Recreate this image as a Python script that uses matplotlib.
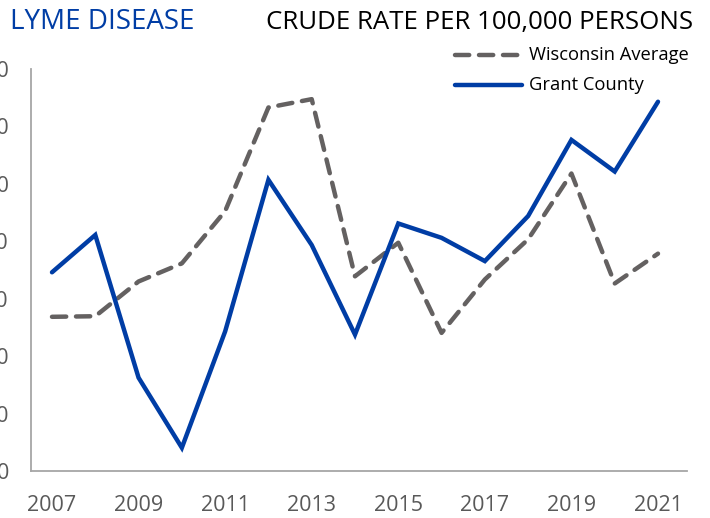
import matplotlib
matplotlib.use("Agg")
import matplotlib.pyplot as plt
from matplotlib.lines import Line2D

years = list(range(2007, 2022))
wisconsin = [53.7, 53.9, 66.0, 72.3, 90.5, 126.6, 129.5, 67.8, 79.5, 48.1, 66.7, 80.7, 103.6, 65.3, 75.7]
grant = [69.2, 82.2, 32.5, 8.1, 48.6, 101.4, 78.7, 47.5, 86.2, 81.2, 73.1, 88.8, 115.3, 104.3, 128.6]
xtick_years = [2007, 2009, 2011, 2013, 2015, 2017, 2019, 2021]
yticks = [0, 20, 40, 60, 80, 100, 120, 140]

FONT = "Open Sans"
GRAY_TXT = "#595959"
BLUE = "#003DA5"
DGRAY = "#646161"

fig = plt.figure(figsize=(7.1, 5.18), dpi=100)
ax = fig.add_axes([31/710, 47/518, (687-31)/710, (471-69)/518])

ax.plot(years, wisconsin, color=DGRAY, lw=3.2, dashes=(3.2, 2.2),
        dash_capstyle="round", solid_capstyle="round", label="Wisconsin Average")
ax.plot(years, grant, color=BLUE, lw=3.2, solid_capstyle="round",
        solid_joinstyle="miter", label="Grant County")

ax.set_xlim(2006.515, 2021.67)
ax.set_ylim(0, 140)
ax.set_xticks(xtick_years)
ax.set_xticklabels([str(y) for y in xtick_years], fontfamily=FONT, fontsize=15.5, color=GRAY_TXT)
ax.set_yticks(yticks)
ax.set_yticklabels([str(v) for v in yticks], fontfamily=FONT, fontsize=15.5, color=GRAY_TXT)
ax.tick_params(axis="both", length=0)
ax.tick_params(axis="x", pad=17)
ax.tick_params(axis="y", pad=16)
for s in ["top", "right"]:
    ax.spines[s].set_visible(False)
for s in ["left", "bottom"]:
    ax.spines[s].set_color("#A6A6A6")
    ax.spines[s].set_linewidth(1.3)

fig.text(10/710, 1 - 22/518, "LYME DISEASE", color=BLUE, fontfamily=FONT,
         fontsize=20, va="center", ha="left")
fig.text(693/710, 1 - 23/518, "CRUDE RATE PER 100,000 PERSONS", color="black",
         fontfamily=FONT, fontsize=18.6, va="center", ha="right")

# legend
fig.add_artist(Line2D([455/710, 522/710], [1 - 55/518, 1 - 55/518], color=DGRAY, lw=3.2,
                      dashes=(3.2, 2.2), dash_capstyle="round"))
fig.add_artist(Line2D([455/710, 522/710], [1 - 85/518, 1 - 85/518], color=BLUE, lw=3.2,
                      solid_capstyle="round"))
fig.text(529/710, 1 - 55/518, "Wisconsin Average", fontfamily=FONT, fontsize=13.2,
         va="center", ha="left", color="black")
fig.text(529/710, 1 - 85/518, "Grant County", fontfamily=FONT, fontsize=13.2,
         va="center", ha="left", color="black")

fig.savefig("out.png", dpi=100)
